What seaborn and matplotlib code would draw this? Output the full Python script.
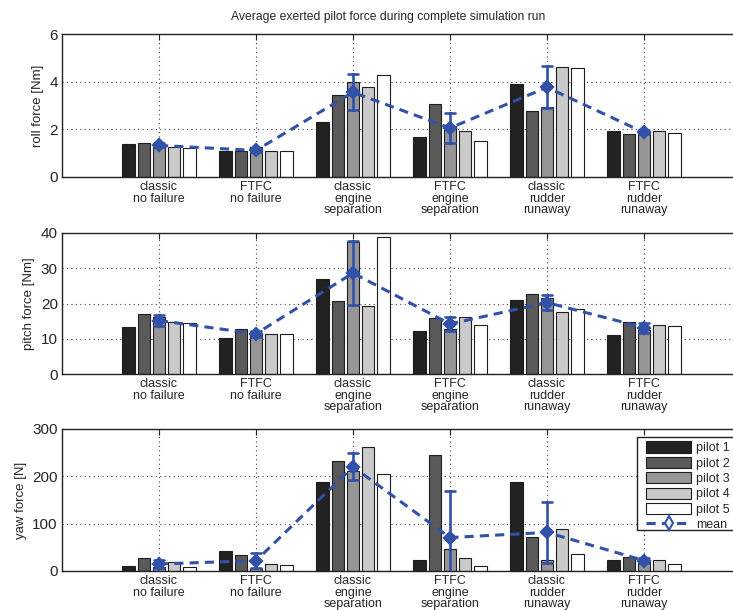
import numpy as np
import pandas as pd
import matplotlib
matplotlib.use("Agg")
import matplotlib.pyplot as plt
import seaborn as sns
from matplotlib.lines import Line2D
from matplotlib.patches import Patch, Rectangle

# ---------------- data ----------------
conditions = ["classic\nno failure", "FTFC\nno failure",
              "classic\nengine\nseparation", "FTFC\nengine\nseparation",
              "classic\nrudder\nrunaway", "FTFC\nrudder\nrunaway"]
pilots = ["pilot 1", "pilot 2", "pilot 3", "pilot 4", "pilot 5"]

roll_force = [
    [1.38, 1.43, 1.32, 1.27, 1.22],
    [1.10, 1.07, 1.25, 1.07, 1.08],
    [2.31, 3.43, 4.00, 3.77, 4.26],
    [1.67, 3.08, 2.13, 1.91, 1.49],
    [3.91, 2.76, 2.93, 4.63, 4.57],
    [1.91, 1.79, 1.85, 1.95, 1.84],
]
pitch_force = [
    [13.3, 17.1, 16.2, 14.7, 14.5],
    [10.2, 12.7, 11.3, 11.4, 11.4],
    [27.0, 20.7, 37.5, 19.2, 38.8],
    [12.1, 15.9, 12.7, 16.3, 14.0],
    [21.0, 22.8, 21.6, 17.5, 18.4],
    [11.1, 14.8, 12.4, 14.0, 13.5],
]
yaw_force = [
    [9.9, 27.6, 7.8, 19.8, 9.2],
    [43.1, 34.0, 5.7, 14.1, 12.0],
    [188.0, 232.5, 212.0, 262.0, 205.6],
    [23.3, 244.5, 47.3, 28.3, 9.9],
    [188.0, 71.4, 23.3, 89.0, 36.0],
    [24.0, 30.4, 18.0, 22.6, 15.5],
]

panel_labels = ["roll force [Nm]", "pitch force [Nm]", "yaw force [N]"]
panel_ticks = [[0, 2, 4, 6], [0, 10, 20, 30, 40], [0, 100, 200, 300]]
title = "Average exerted pilot force during complete simulation run"

pilot_colors = ["#222222", "#5a5a5a", "#969696", "#cacaca", "#ffffff"]
mean_color = "#3152a8"
mean_dash = (0, (3, 2))

# ---------------- style ----------------
sns.set_style("white")
plt.rcParams["font.family"] = ["Liberation Sans Narrow", "Liberation Sans", "DejaVu Sans"]

W, H = 733, 610
fig = plt.figure(figsize=(W / 100, H / 100), dpi=100)

# axes run past the right edge of the canvas (as in the reference)
px_left, px_unit = 62, 97.0
x_lo, x_hi = -1, 6.4
left = px_left / W
width = (x_hi - x_lo) * px_unit / W
panel_px = [(34, 177), (233, 374), (429, 571)]


def long_df(values):
    rows = []
    for c, vals in zip(conditions, values):
        for p, v in zip(pilots, vals):
            rows.append({"condition": c, "pilot": p, "force": v})
    return pd.DataFrame(rows)


datasets = [roll_force, pitch_force, yaw_force]
for i, (vals, (top, bot)) in enumerate(zip(datasets, panel_px)):
    ax = fig.add_axes([left, 1 - bot / H, width, (bot - top) / H])
    df = long_df(vals)
    sns.barplot(data=df, x="condition", y="force", hue="pilot",
                order=conditions, hue_order=pilots, palette=pilot_colors,
                saturation=1, width=0.78, gap=0.16, errorbar=None,
                edgecolor="#1e1e1e", linewidth=0.8, legend=False, ax=ax)
    n_before = len(ax.lines)
    sns.pointplot(data=df, x="condition", y="force", order=conditions,
                  errorbar="sd", color=mean_color, linestyles="--",
                  markers="D", markersize=6, linewidth=2.2, capsize=0.11,
                  err_kws={"linewidth": 1.9, "linestyle": "-"}, ax=ax)
    for ln in ax.lines[n_before:]:
        ln.set_zorder(5)
        if len(ln.get_xdata()) == len(conditions):
            ln.set_linestyle(mean_dash)
    ax.set_xlim(x_lo, x_hi)
    ax.set_ylim(panel_ticks[i][0], panel_ticks[i][-1])
    ax.set_yticks(panel_ticks[i])
    ax.set_axisbelow(True)
    ax.grid(True, linestyle=(0, (1, 3)), color="#444444", linewidth=0.8)
    ax.tick_params(direction="in", top=True, right=True, length=4,
                   width=0.8, color="#222222")
    ax.tick_params(axis="y", labelsize=11, pad=3)
    ax.tick_params(axis="x", labelsize=9, pad=3)
    for lab in ax.get_xticklabels():
        lab.set_linespacing(0.95)
    ax.set_xlabel("")
    ax.set_ylabel(panel_labels[i], fontsize=9.5, labelpad=4)
    for s in ax.spines.values():
        s.set_visible(True)
        s.set_linewidth(1.0)
        s.set_color("#222222")

fig.text(388 / W, 1 - 17 / H, title, ha="center", va="center", fontsize=8.7)

handles = [Patch(facecolor=c, edgecolor="#1e1e1e", linewidth=0.8) for c in pilot_colors]
handles.append(Line2D([0], [0], color=mean_color, linestyle=mean_dash, linewidth=2.2,
                      marker="d", markersize=7, markerfacecolor="white",
                      markeredgecolor=mean_color, markeredgewidth=1.5))
# legend frame (runs past the right edge of the canvas like the reference)
fig.patches.append(Rectangle((637 / W, 1 - 530 / H), 140 / W, 93 / H,
                             transform=fig.transFigure, facecolor="white",
                             edgecolor="#222222", linewidth=1.0, zorder=10))
leg = fig.legend(handles, pilots + ["mean"], loc="upper left",
                 bbox_to_anchor=(642 / W, 1 - 437 / H), fontsize=9,
                 frameon=False, handlelength=3.6, handleheight=1.0,
                 labelspacing=0.2, borderpad=0.35, handletextpad=0.35,
                 borderaxespad=0)
leg.set_zorder(11)

fig.savefig("out.png", dpi=100)
